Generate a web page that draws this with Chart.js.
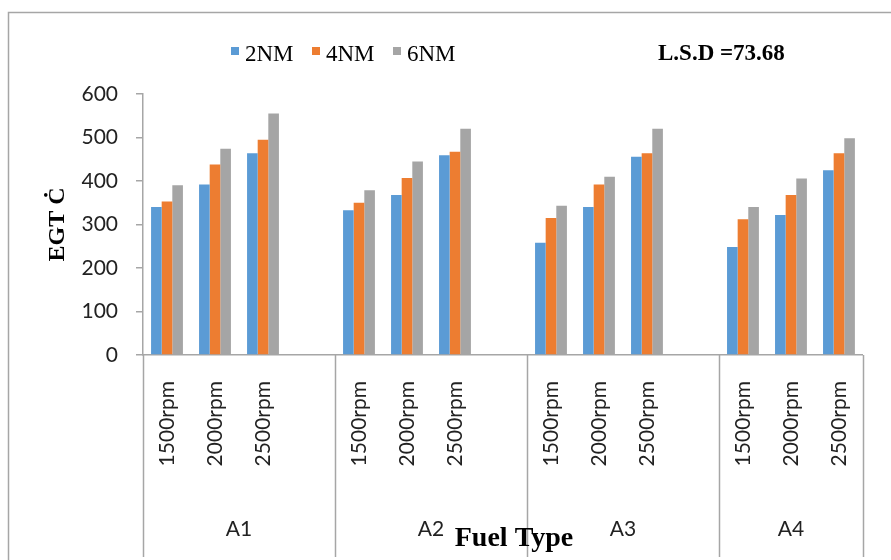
<!DOCTYPE html>
<html><head><meta charset="utf-8">
<script src="https://cdn.jsdelivr.net/npm/chart.js@4.4.1/dist/chart.umd.min.js"></script>
<style>html,body{margin:0;padding:0;background:#fff;}canvas{display:block;}</style>
</head><body>
<canvas id="c" width="891" height="560"></canvas>
<script>
// ---- data ----
const categories = ['1500rpm','2000rpm','2500rpm','', '1500rpm','2000rpm','2500rpm','', '1500rpm','2000rpm','2500rpm','', '1500rpm','2000rpm','2500rpm'];
const groups = ['A1','A2','A3','A4'];
const groupSizes = [4,4,4,3];
const seriesNames = ['2NM','4NM','6NM'];
const nm2 = [340,392,464,null, 333,368,459,null, 258,340,456,null, 248,322,425];
const nm4 = [353,438,495,null, 350,407,467,null, 315,392,464,null, 312,368,464];
const nm6 = [390,474,555,null, 379,445,520,null, 343,410,520,null, 340,406,498];
const yMin = 0, yMax = 600, yStep = 100;
const yTitle = 'EGT Ċ';
const xTitle = 'Fuel Type';
const lsdText = 'L.S.D =73.68';

const colors = ['#5B9BD5','#ED7D31','#A5A5A5'];
const axisGray = '#A6A6A6';
const sans = 'Lato';
const serif = 'Liberation Serif';

const decor = {
  id: 'decor',
  beforeDraw(chart) {
    const ctx = chart.ctx;
    ctx.save();
    ctx.fillStyle = '#fff';
    ctx.fillRect(0, 0, chart.width, chart.height);
    ctx.strokeStyle = axisGray;
    ctx.lineWidth = 1.5;
    ctx.strokeRect(8.5, 12.5, 1000, 1000);
    ctx.restore();
  },
  afterDraw(chart) {
    const ctx = chart.ctx;
    const xs = chart.scales.x;
    const bottom = chart.chartArea.bottom;
    ctx.save();
    // group separators and labels
    ctx.strokeStyle = axisGray;
    ctx.lineWidth = 1.5;
    let start = 0;
    const bounds = [-0.5];
    groupSizes.forEach(n => { start += n; bounds.push(start - 0.5); });
    bounds.forEach(b => {
      const px = Math.round(xs.getPixelForValue(b)) + 0.5;
      ctx.beginPath();
      ctx.moveTo(px, bottom);
      ctx.lineTo(px, 557);
      ctx.stroke();
    });
    ctx.fillStyle = '#222';
    ctx.font = '21px ' + sans;
    ctx.textAlign = 'center';
    ctx.textBaseline = 'middle';
    groups.forEach((g, i) => {
      const cx = (xs.getPixelForValue(bounds[i]) + xs.getPixelForValue(bounds[i+1])) / 2;
      ctx.fillText(g, cx, 529);
    });
    // x axis title
    ctx.fillStyle = '#000';
    ctx.textBaseline = 'alphabetic';
    ctx.font = 'bold 28px ' + serif;
    ctx.fillText(xTitle, 514, 546);
    // legend
    ctx.textAlign = 'left';
    ctx.font = '23px ' + serif;
    const lx = [231, 312, 393];
    seriesNames.forEach((s, i) => {
      ctx.fillStyle = colors[i];
      ctx.fillRect(lx[i], 47, 8, 8);
      ctx.fillStyle = '#000';
      ctx.fillText(s, lx[i] + 14, 61);
    });
    ctx.font = 'bold 23px ' + serif;
    ctx.fillText(lsdText, 658, 60);
    ctx.restore();
  }
};

new Chart(document.getElementById('c'), {
  type: 'bar',
  data: {
    labels: categories,
    datasets: [
      { label: seriesNames[0], data: nm2, backgroundColor: colors[0] },
      { label: seriesNames[1], data: nm4, backgroundColor: colors[1] },
      { label: seriesNames[2], data: nm6, backgroundColor: colors[2] }
    ]
  },
  options: {
    responsive: false,
    animation: false,
    devicePixelRatio: 1,
    categoryPercentage: 0.664,
    barPercentage: 1,
    layout: { padding: { left: 0, right: 25, top: 94, bottom: 0 } },
    plugins: { legend: { display: false }, tooltip: { enabled: false } },
    scales: {
      x: {
        grid: { display: true, drawOnChartArea: false, drawTicks: false },
        border: { display: true, color: axisGray, width: 1.5 },
        ticks: { autoSkip: false, maxRotation: 90, minRotation: 90, padding: 26,
                 color: '#222', font: { family: sans, size: 21 } },
        title: { display: false },
        afterFit(s) { s.height = 205; }
      },
      y: {
        min: yMin, max: yMax,
        grid: { display: true, drawOnChartArea: false, drawTicks: true, tickLength: 7, color: axisGray, lineWidth: 1.5 },
        border: { display: true, color: axisGray, width: 1.5 },
        ticks: { stepSize: yStep, padding: 18, color: '#222', font: { family: sans, size: 21 } },
        title: { display: true, text: yTitle, color: '#000',
                 font: { family: serif, size: 24, weight: 'bold' }, padding: { top: 43, bottom: 0 } },
        afterFit(s) { s.width = 143; }
      }
    }
  },
  plugins: [decor]
});
</script>
</body></html>
